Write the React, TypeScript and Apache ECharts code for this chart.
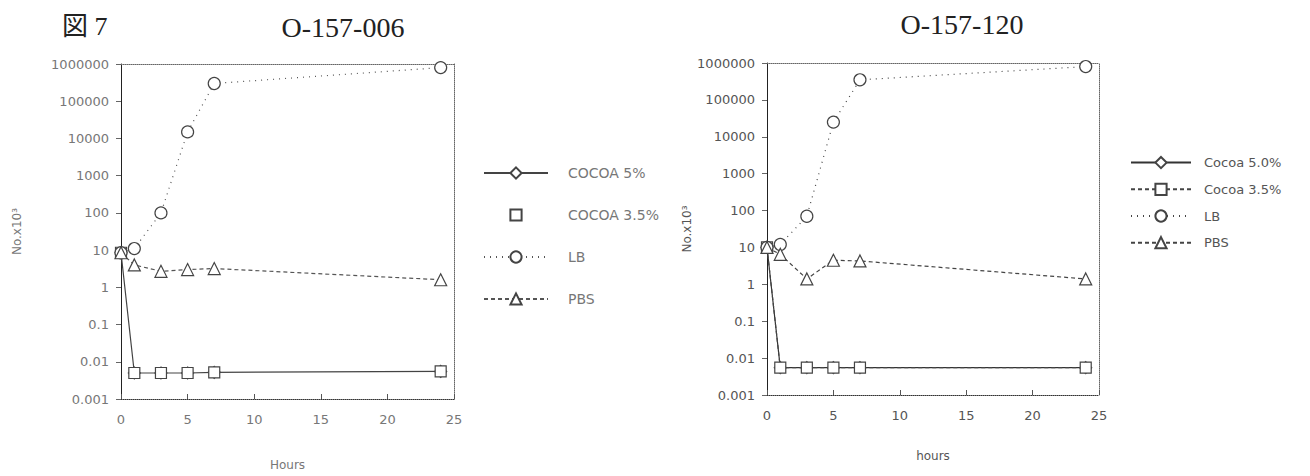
import React, { useEffect, useRef } from "react";
import * as echarts from "echarts";

// ---- data ----
const hours = [0, 1, 3, 5, 7, 24];

const leftCocoa5 = [8.5, 0.005, 0.005, 0.005, 0.0052, 0.0055];
const leftCocoa35 = [8.5, 0.005, 0.005, 0.005, 0.0052, 0.0055];
const leftLB = [8.5, 11, 100, 15000, 300000, 800000];
const leftPBS = [8.5, 4, 2.7, 3, 3.2, 1.6];

const rightCocoa50 = [10, 0.0055, 0.0055, 0.0055, 0.0055, 0.0055];
const rightCocoa35 = [10, 0.0055, 0.0055, 0.0055, 0.0055, 0.0055];
const rightLB = [10, 12, 70, 25000, 350000, 800000];
const rightPBS = [10, 6.5, 1.4, 4.5, 4.3, 1.4];

const leftNames = ["COCOA 5%", "COCOA 3.5%", "LB", "PBS"];
const rightNames = ["Cocoa 5.0%", "Cocoa 3.5%", "LB", "PBS"];
const rightKeys = ["Cocoa 5.0%", "Cocoa 3.5%", "LB_120", "PBS_120"];

const titles = ["図 7", "O-157-006", "O-157-120"];
const xNames = ["Hours", "hours"];
const yName = "No.x10³";

const pair = (arr: number[]) => hours.map((h, i) => [h, arr[i]]);

const logLabel = (v: number) => {
  const e = Math.round(Math.log10(v));
  return e >= 0 ? String(Math.pow(10, e)) : Math.pow(10, e).toFixed(-e);
};

const FONT = "DejaVu Sans";

function buildOption() {
  const lineBase = (
    name: string,
    data: number[],
    gi: number,
    symbol: string,
    size: number,
    lineType: any,
    lineColor: string,
    lineOpacity = 1
  ) => ({
    name,
    type: "line",
    xAxisIndex: gi,
    yAxisIndex: gi,
    data: pair(data),
    symbol,
    symbolSize: size,
    showSymbol: true,
    itemStyle: { color: "#ffffff", borderColor: "#444", borderWidth: 1.2 },
    lineStyle: { color: lineColor, width: 1.2, type: lineType, opacity: lineOpacity },
    emphasis: { disabled: true },
    z: 3,
  });

  const yMain = (gi: number, color: string, fs: number, gap: number) => ({
    gridIndex: gi,
    type: "log",
    logBase: 10,
    min: 0.001,
    max: 1000000,
    splitNumber: 9,
    position: "left",
    axisLine: { show: true, lineStyle: { color: "#222", width: 1 } },
    axisTick: { show: true, inside: false, length: 5, lineStyle: { color: "#666" } },
    minorTick: { show: false },
    splitLine: { show: false },
    axisLabel: {
      formatter: logLabel,
      color,
      fontSize: fs,
      fontFamily: FONT,
      margin: 12,
    },
    name: yName,
    nameLocation: "middle",
    nameRotate: 90,
    nameGap: gap,
    nameTextStyle: { color, fontSize: 12, fontFamily: FONT },
  });

  const xMain = (gi: number, name: string, color: string, fs: number, gap: number) => ({
    gridIndex: gi,
    type: "value",
    min: 0,
    max: 25,
    interval: 5,
    position: "bottom",
    axisLine: { show: true, onZero: false, lineStyle: { color: "#333", width: 1, type: "dotted" } },
    axisTick: { show: true, inside: true, length: 5, lineStyle: { color: "#555" } },
    splitLine: { show: false },
    axisLabel: { color, fontSize: fs, fontFamily: FONT, margin: 14 },
    name,
    nameLocation: "middle",
    nameGap: gap,
    nameTextStyle: { color, fontSize: 12, fontFamily: FONT },
  });

  const frameX = (gi: number) => ({
    gridIndex: gi,
    type: "value",
    min: 0,
    max: 25,
    position: "top",
    axisLine: { show: true, onZero: false, lineStyle: { color: "#666", type: "dotted" } },
    axisTick: { show: false },
    axisLabel: { show: false },
    splitLine: { show: false },
  });
  const frameY = (gi: number) => ({
    gridIndex: gi,
    type: "value",
    min: 0,
    max: 1,
    position: "right",
    axisLine: { show: true, onZero: false, lineStyle: { color: "#666", type: "dotted" } },
    axisTick: { show: false },
    axisLabel: { show: false },
    splitLine: { show: false },
  });

  const titleStyle = {
    fontFamily: "Liberation Serif, Noto Sans CJK JP",
    fontSize: 28,
    fontWeight: "normal",
    color: "#222",
  };

  return {
    animation: false,
    backgroundColor: "#ffffff",
    title: [
      { text: titles[0], left: 62, top: 13, padding: 0, textStyle: { ...titleStyle, fontSize: 26 } },
      { text: titles[1], left: 343, top: 13, padding: 0, textAlign: "center", textStyle: titleStyle },
      { text: titles[2], left: 962, top: 10, padding: 0, textAlign: "center", textStyle: titleStyle },
    ],
    grid: [
      { left: 121, right: 1310 - 454, top: 64, bottom: 476 - 402, containLabel: false },
      { left: 767, right: 1310 - 1099, top: 63, bottom: 476 - 395, containLabel: false },
    ],
    xAxis: [
      xMain(0, xNames[0], "#777", 13, 60),
      xMain(1, xNames[1], "#555", 13, 55),
      frameX(0),
      frameX(1),
    ],
    yAxis: [yMain(0, "#777", 13, 98), yMain(1, "#555", 13, 71), frameY(0), frameY(1)],
    legend: [
      {
        orient: "vertical",
        left: 483,
        top: 166,
        padding: 0,
        itemWidth: 64,
        itemHeight: 14,
        itemGap: 28,
        data: leftNames,
        textStyle: { color: "#777", fontSize: 14, fontFamily: FONT, padding: [0, 0, 0, 15] },
        inactiveColor: "#ccc",
      },
      {
        orient: "vertical",
        left: 1130,
        top: 156,
        padding: 0,
        itemWidth: 60,
        itemHeight: 14,
        itemGap: 13.5,
        data: rightKeys,
        formatter: (n: string) => rightNames[rightKeys.indexOf(n)] ?? n,
        textStyle: { color: "#555", fontSize: 13, fontFamily: FONT, padding: [0, 0, 0, 8] },
        inactiveColor: "#ccc",
      },
    ],
    series: [
      lineBase(leftNames[0], leftCocoa5, 0, "diamond", 12, "solid", "#444"),
      lineBase(leftNames[1], leftCocoa35, 0, "rect", 11, "dashed", "#444", 0),
      lineBase(leftNames[2], leftLB, 0, "circle", 12, [1, 5], "#555"),
      lineBase(leftNames[3], leftPBS, 0, "triangle", 12, [4, 3], "#555"),
      lineBase(rightKeys[0], rightCocoa50, 1, "diamond", 12, "solid", "#333"),
      lineBase(rightKeys[1], rightCocoa35, 1, "rect", 11, [4, 3], "#444"),
      lineBase(rightKeys[2], rightLB, 1, "circle", 12, [1, 5], "#444"),
      lineBase(rightKeys[3], rightPBS, 1, "triangle", 12, [4, 3], "#444"),
    ],
  };
}

export default function App() {
  const ref = useRef<HTMLDivElement>(null);
  useEffect(() => {
    if (!ref.current) return;
    const chart = echarts.init(ref.current, undefined, { renderer: "svg" });
    chart.setOption(buildOption() as any);
    return () => chart.dispose();
  }, []);
  return (
    <div
      ref={ref}
      style={{ position: "absolute", left: 0, top: 0, width: 1310, height: 476, background: "#fff" }}
    />
  );
}
